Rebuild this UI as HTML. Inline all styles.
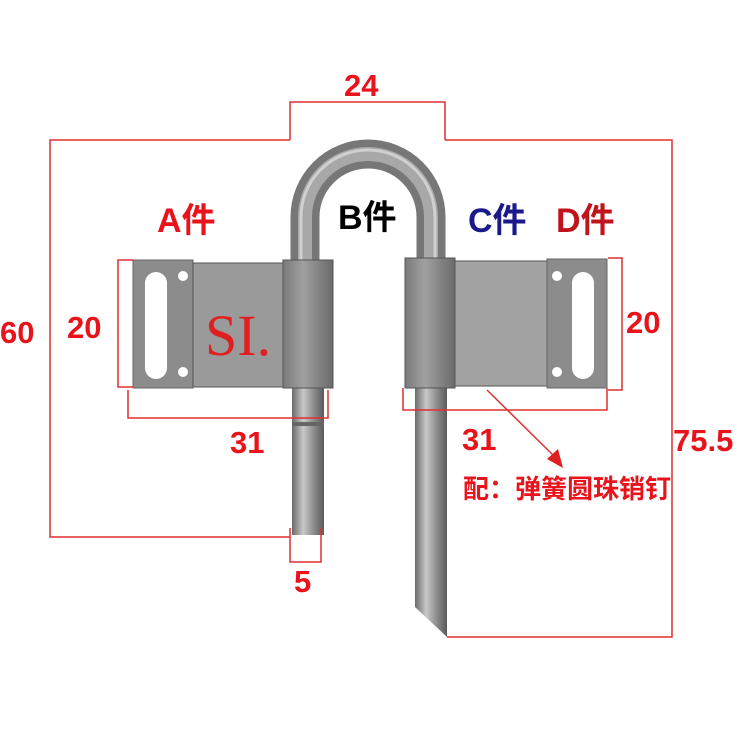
<!DOCTYPE html>
<html><head><meta charset="utf-8"><style>
html,body{margin:0;padding:0;background:#fff;}
svg{display:block;}
text{font-family:"Liberation Sans","Noto Sans CJK SC",sans-serif;font-weight:bold;}
</style></head><body>
<svg width="749" height="743" viewBox="0 0 749 743" xmlns="http://www.w3.org/2000/svg">
<defs>
<linearGradient id="rod" x1="0" x2="1" y1="0" y2="0">
<stop offset="0" stop-color="#6a6a6a"/><stop offset="0.35" stop-color="#c8c8c8"/><stop offset="0.6" stop-color="#9a9a9a"/><stop offset="1" stop-color="#5a5a5a"/>
</linearGradient>
<linearGradient id="hinge" x1="0" x2="1" y1="0" y2="0">
<stop offset="0" stop-color="#7a7a7a"/><stop offset="0.4" stop-color="#a0a0a0"/><stop offset="1" stop-color="#6a6a6a"/>
</linearGradient>
</defs>
<!-- U bolt -->
<path d="M305 265 L305 217 A63 63 0 0 1 431 217 L431 265" fill="none" stroke="#777" stroke-width="29"/>
<path d="M305 265 L305 217 A63 63 0 0 1 431 217 L431 265" fill="none" stroke="#a8a8a8" stroke-width="14"/>
<path d="M301 265 L301 217 A67 67 0 0 1 435 217 L435 265" fill="none" stroke="#d0d0d0" stroke-width="3"/>
<!-- left lower rod -->
<rect x="292" y="388" width="32" height="147" fill="url(#rod)"/>
<rect x="292" y="422" width="32" height="4" fill="#666"/>
<!-- right rod -->
<path d="M415 388 L447 388 L447 637 L415 607 Z" fill="url(#rod)"/>
<!-- left block -->
<rect x="133" y="260" width="60" height="128" fill="#8c8c8c" stroke="#666"/>
<rect x="145" y="272" width="22" height="107" rx="11" fill="#fff"/>
<circle cx="183" cy="276" r="5" fill="#fff"/><circle cx="183" cy="372" r="5" fill="#fff"/>
<rect x="193" y="263" width="92" height="124" fill="#9a9a9a" stroke="#555"/>
<rect x="283" y="260" width="50" height="128" fill="url(#hinge)" stroke="#555"/>
<text x="205" y="355" font-size="58" fill="#e02020" style="font-family:'Liberation Serif',serif;font-weight:normal">SI.</text>
<!-- right block -->
<rect x="405" y="258" width="50" height="130" fill="url(#hinge)" stroke="#555"/>
<rect x="455" y="261" width="92" height="125" fill="#a3a3a3" stroke="#555"/>
<rect x="547" y="259" width="60" height="129" fill="#8c8c8c" stroke="#666"/>
<rect x="572" y="272" width="22" height="107" rx="11" fill="#fff"/>
<circle cx="557" cy="276" r="5" fill="#fff"/><circle cx="557" cy="372" r="5" fill="#fff"/>
<!-- dimension lines -->
<g fill="none" stroke="#e03030" stroke-width="1.5">
<path d="M290 140 V102 H445 V140"/>
<path d="M290 140 H50 V537 H290"/>
<path d="M445 140 H672 V637 H447"/>
<path d="M290 528 V562 H321 V528"/>
<path d="M133 260 H118 V387 H133"/>
<path d="M128 390 V418 H328 V390"/>
<path d="M608 258 H622 V390 H608"/>
<path d="M403 388 V410 H607 V388"/>
<path d="M487 390 L556 458"/>
</g>
<path d="M563 468 L547 459 L558 449 Z" fill="#e02020"/>
<!-- labels -->
<g fill="#e8131b">
<text x="344" y="96" font-size="31">24</text>
<text x="0" y="343" font-size="31">60</text>
<text x="67" y="338" font-size="31">20</text>
<text x="230" y="453" font-size="31">31</text>
<text x="294" y="592" font-size="31">5</text>
<text x="626" y="333" font-size="31">20</text>
<text x="462" y="450" font-size="31">31</text>
<text x="673" y="451" font-size="31">75.5</text>
<text x="463" y="498" font-size="26">配：弹簧圆珠销钉</text>
<text x="157" y="232" font-size="34">A件</text>
</g>
<text x="338" y="229" font-size="34" fill="#000">B件</text>
<text x="468" y="232" font-size="34" fill="#1a1a8c">C件</text>
<text x="556" y="232" font-size="34" fill="#c0141c">D件</text>
</svg>
</body></html>
